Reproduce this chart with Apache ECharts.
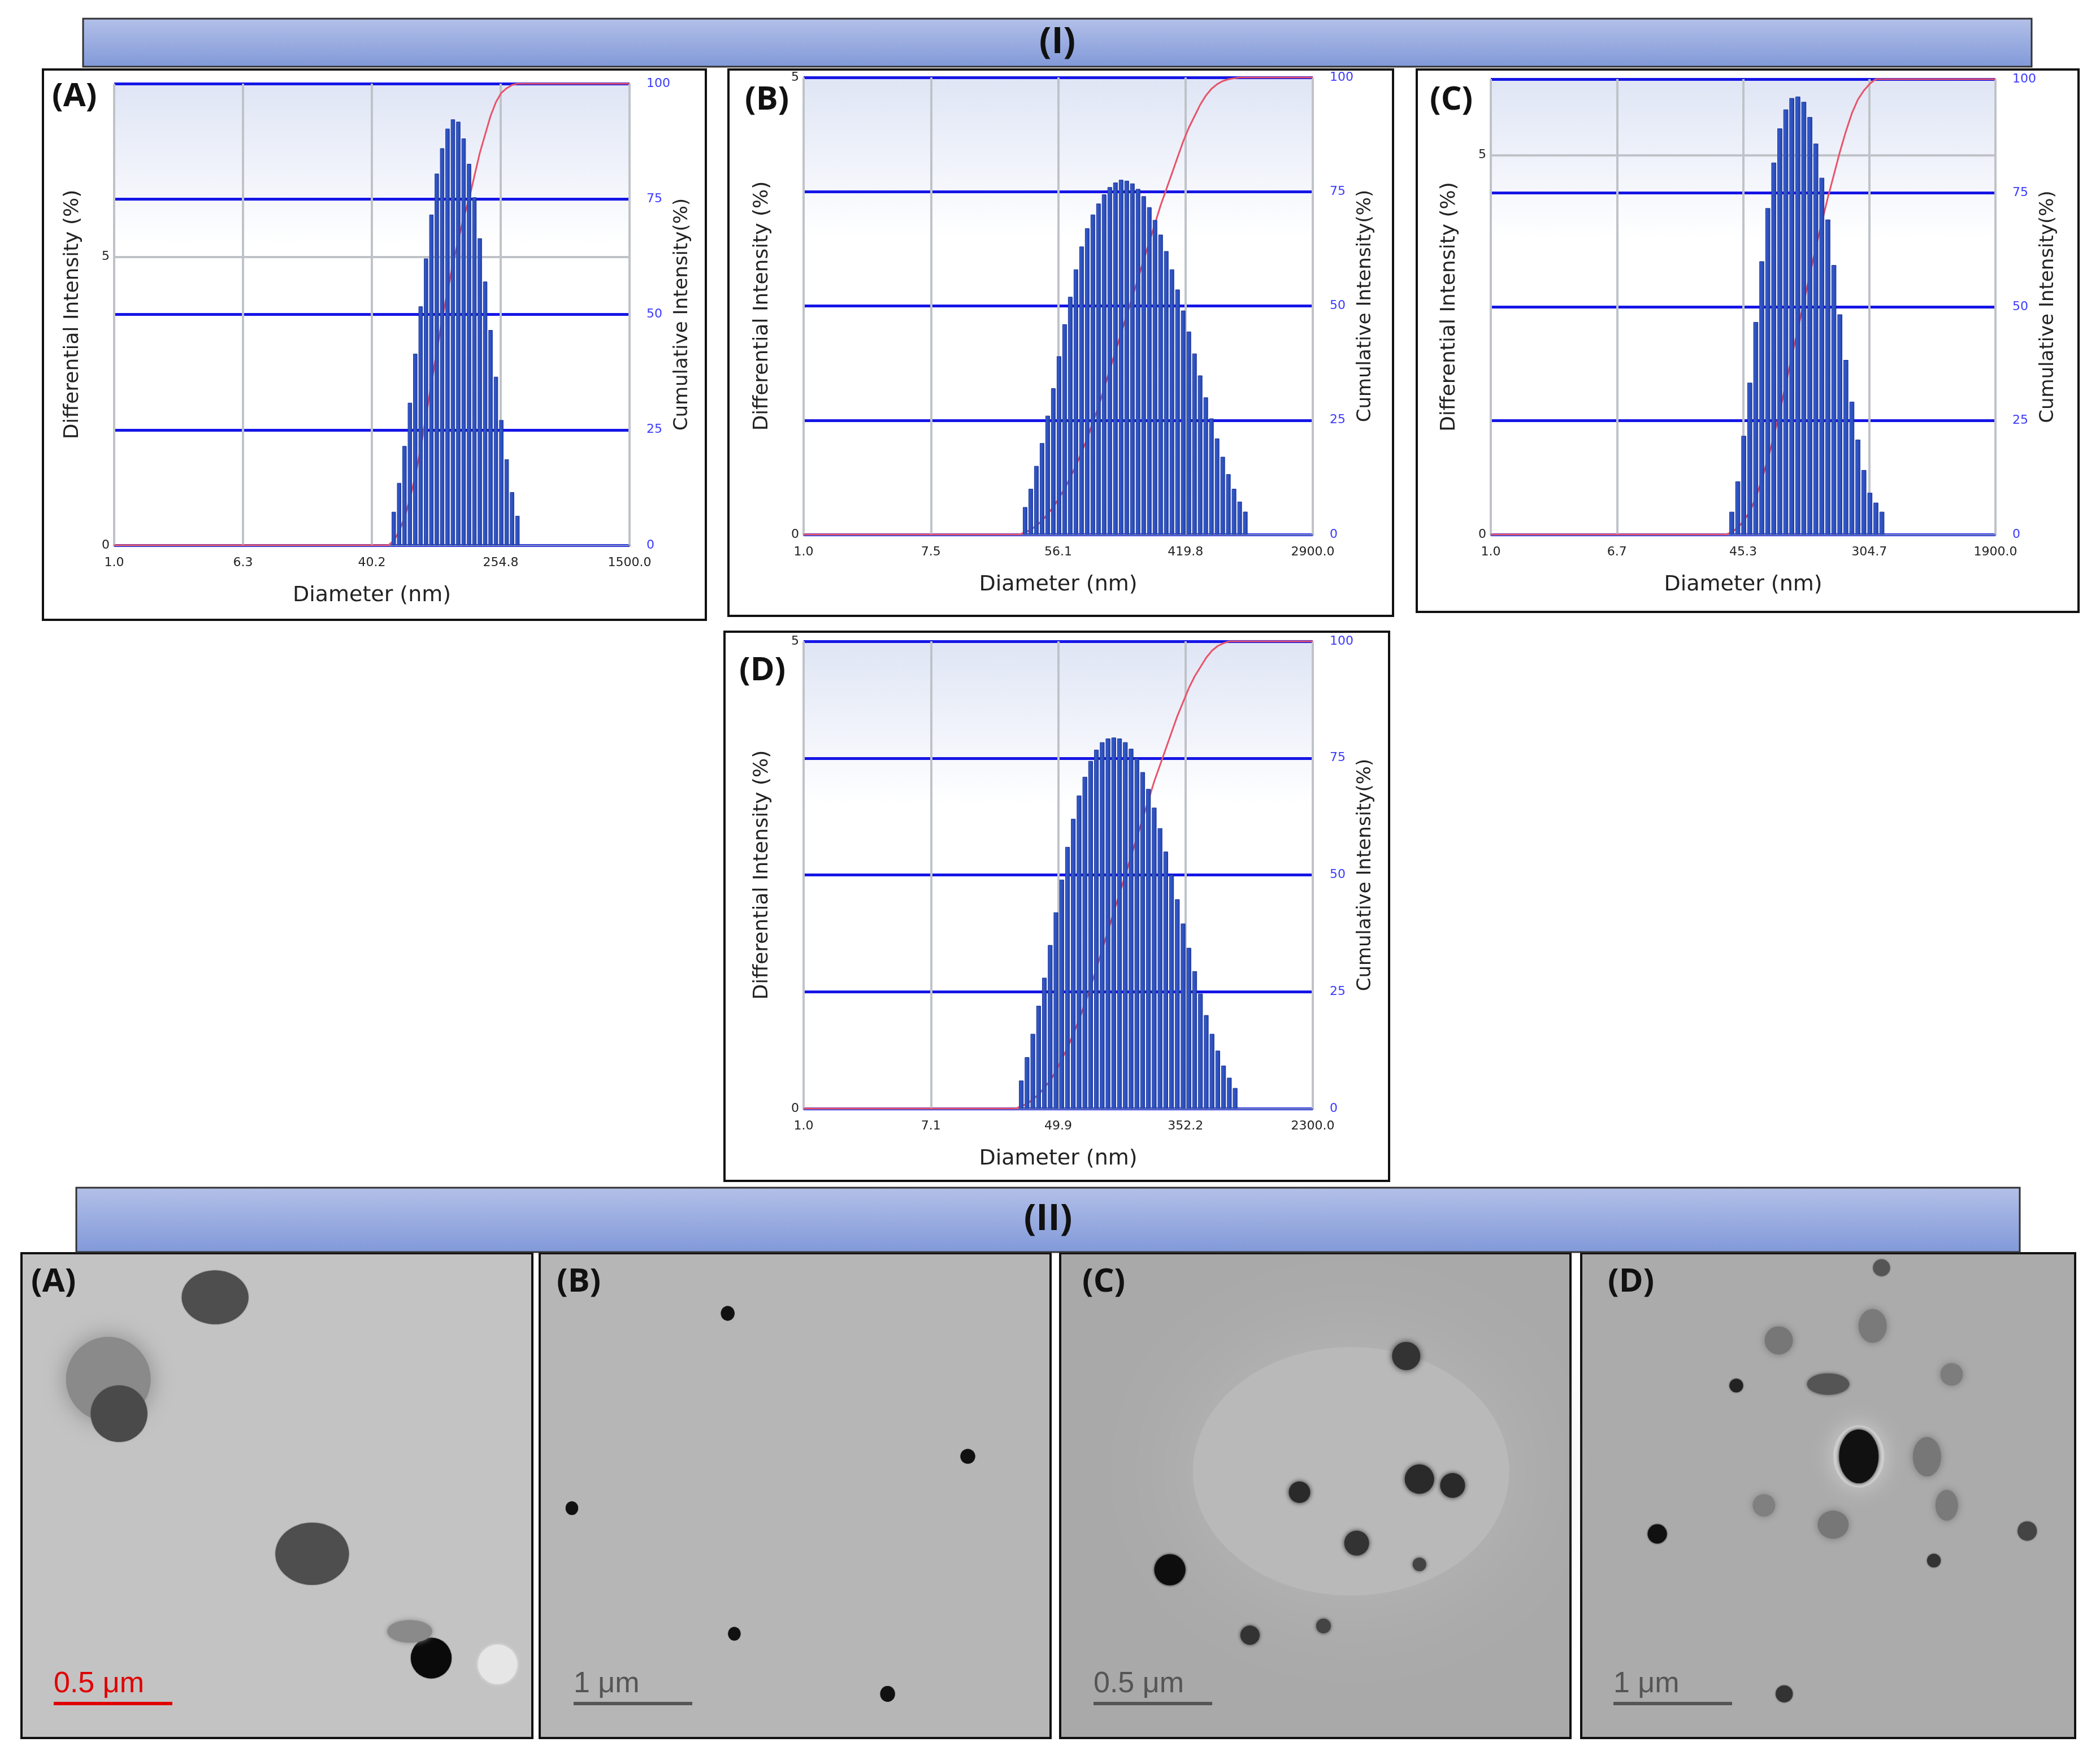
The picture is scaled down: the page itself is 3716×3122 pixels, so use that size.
<!DOCTYPE html>
<html>
<head>
<meta charset="utf-8">
<script src="https://cdn.jsdelivr.net/npm/echarts@6/dist/echarts.min.js"></script>
<style>html,body{margin:0;padding:0;background:#fff}#main{width:3716px;height:3122px}</style>
</head>
<body>
<div id="main"></div>
<script>
// ---- DLS data (x positions are in log-axis units 0..4) ----
var ticksA = ['1.0', '6.3', '40.2', '254.8', '1500.0'];
var ticksB = ['1.0', '7.5', '56.1', '419.8', '2900.0'];
var ticksC = ['1.0', '6.7', '45.3', '304.7', '1900.0'];
var ticksD = ['1.0', '7.1', '49.9', '352.2', '2300.0'];

var diffA = [0.58, 1.08, 1.72, 2.47, 3.32, 4.14, 4.97, 5.73, 6.44, 6.88, 7.22, 7.38, 7.34, 7.05, 6.61, 6.03, 5.32, 4.57, 3.73, 2.92, 2.17, 1.49, 0.92, 0.51];
var cumA = [1, 3, 6, 10, 15, 21, 28, 35, 42, 49, 55, 61, 66, 71, 75, 80, 85, 89, 93, 96, 98, 99, 99.7, 100];
var diffB = [0.3, 0.5, 0.75, 1.0, 1.3, 1.6, 1.95, 2.3, 2.6, 2.9, 3.15, 3.35, 3.5, 3.62, 3.72, 3.8, 3.85, 3.88, 3.87, 3.84, 3.78, 3.7, 3.58, 3.44, 3.28, 3.1, 2.9, 2.68, 2.45, 2.22, 1.98, 1.74, 1.5, 1.27, 1.05, 0.85, 0.66, 0.5, 0.36, 0.25];
var cumB = [0.5, 1, 2, 3, 4.5, 6, 8, 10, 12.5, 15, 18, 21, 24.5, 28, 32, 36, 40, 44, 48, 52, 56, 60, 64, 68, 72, 75.5, 79, 82.5, 86, 89, 91.5, 94, 96, 97.5, 98.5, 99.2, 99.6, 99.8, 100, 100];
var diffC = [0.3, 0.7, 1.3, 2.0, 2.8, 3.6, 4.3, 4.9, 5.35, 5.6, 5.75, 5.77, 5.7, 5.5, 5.15, 4.7, 4.15, 3.55, 2.9, 2.3, 1.75, 1.25, 0.85, 0.55, 0.42, 0.3];
var cumC = [0.5, 1.5, 3, 5, 8, 12, 16.5, 21.5, 27, 33, 39, 45, 51, 57, 63, 68.5, 74, 79, 84, 88.5, 92.5, 95.5, 97.5, 99, 100, 100];
var diffD = [0.3, 0.55, 0.8, 1.1, 1.4, 1.75, 2.1, 2.45, 2.8, 3.1, 3.35, 3.55, 3.72, 3.84, 3.92, 3.96, 3.97, 3.96, 3.92, 3.85, 3.75, 3.6, 3.42, 3.22, 3.0, 2.75, 2.5, 2.24, 1.98, 1.72, 1.47, 1.23, 1.0, 0.8, 0.62, 0.46, 0.33, 0.22];
var cumD = [0.5, 1, 2, 3, 4.5, 6, 8, 10.5, 13, 16, 19, 22.5, 26, 30, 34, 38, 42, 46, 50, 54, 58, 62, 66, 70, 73.5, 77, 80.5, 84, 87, 90, 92.5, 94.5, 96.5, 98, 99, 99.6, 100, 100];

// first bin position and last bin position (log-axis units)
var binsA = [2.17, 3.13];
var binsB = [1.74, 3.47];
var binsC = [1.91, 3.10];
var binsD = [1.71, 3.39];

// ---- TEM particles: [x%, y%, w, h], colours and blur kept separately ----
var temA = [[17, 74, 150, 150], [37.9, 90.9, 118, 95], [19.1, 66.9, 100, 100], [56.9, 38.0, 130, 110], [80.2, 16.5, 72, 72], [93.2, 15.2, 70, 70], [76, 22, 80, 40]];
var temAcol = ['#8a8a8a', '#4e4e4e', '#4a4a4a', '#4e4e4e', '#0a0a0a', '#e6e6e6', '#8a8a8a'];
var temAblur = [40, 2, 2, 2, 2, 6, 10];
var temB = [[36.8, 87.6, 24, 26], [83.8, 58.1, 26, 26], [6.3, 47.4, 22, 24], [38.1, 21.5, 22, 24], [68.1, 9.1, 26, 28]];
var temBcol = ['#111', '#111', '#111', '#111', '#111'];
var temBblur = [1, 1, 1, 1, 1];
var temC = [[57, 55, 560, 440], [21.5, 34.7, 55, 55], [67.8, 78.8, 50, 50], [46.9, 50.7, 38, 38], [70.4, 53.4, 52, 52], [76.9, 52.1, 44, 44], [58.1, 40.2, 44, 44], [37.2, 21.2, 34, 34], [51.6, 23.1, 26, 26], [70.4, 35.8, 24, 24]];
var temCcol = ['#b9b9b9', '#0e0e0e', '#333', '#2a2a2a', '#2a2a2a', '#2a2a2a', '#333', '#333', '#444', '#444'];
var temCblur = [200, 4, 12, 8, 8, 8, 8, 6, 6, 6];
var temD = [[56.2, 58.1, 90, 110], [56.2, 58.1, 70, 95], [15.4, 42.1, 34, 34], [31.4, 72.7, 24, 24], [71.4, 36.6, 24, 24], [90.3, 42.7, 34, 34], [41.1, 9.1, 30, 30], [60.8, 97, 30, 30], [50, 73, 75, 38], [40, 82, 50, 50], [59, 85, 50, 60], [70, 58, 50, 70], [51, 44, 55, 50], [74, 48, 40, 55], [37, 48, 40, 40], [75, 75, 40, 40]];
var temDcol = ['#cfcfcf', '#111', '#111', '#222', '#333', '#444', '#333', '#555', '#555', '#777', '#7a7a7a', '#777', '#777', '#7a7a7a', '#808080', '#7d7d7d'];
var temDblur = [40, 6, 3, 3, 3, 3, 3, 3, 6, 14, 14, 14, 14, 14, 14, 14];

var chart = echarts.init(document.getElementById('main'));

var grids = [], xAxes = [], yAxes = [], series = [], graphics = [];

function plotBg() {
  return new echarts.graphic.LinearGradient(0, 0, 0, 1, [
    { offset: 0, color: '#dfe5f5' }, { offset: 0.35, color: '#ffffff' }, { offset: 1, color: '#ffffff' }]);
}

function addDls(rect, ticks, diff, cum, bins, yMax) {
  var gi = grids.length;
  grids.push({ left: rect[0], top: rect[1], width: rect[2], height: rect[3], show: true, backgroundColor: plotBg(), borderWidth: 0 });
  xAxes.push({
    gridIndex: gi, type: 'value', min: 0, max: 4, interval: 1,
    name: 'Diameter (nm)', nameLocation: 'middle', nameGap: 70,
    nameTextStyle: { fontSize: 38, color: '#222', fontFamily: 'DejaVu Sans' },
    axisLine: { lineStyle: { color: '#6d7fc4', width: 3 } }, axisTick: { show: false },
    axisLabel: { fontSize: 22, color: '#222', margin: 20, fontFamily: 'DejaVu Sans', formatter: function (v) { return ticks[v]; } },
    splitLine: { show: true, lineStyle: { color: '#bfc3c8', width: 4 } }
  });
  var yl = yAxes.length;
  yAxes.push({
    gridIndex: gi, type: 'value', min: 0, max: yMax, interval: 5,
    name: 'Differential Intensity (%)', nameLocation: 'middle', nameGap: 55,
    nameTextStyle: { fontSize: 36, color: '#222', fontFamily: 'DejaVu Sans' },
    axisLine: { show: false }, axisTick: { show: false },
    axisLabel: { fontSize: 22, color: '#222', fontFamily: 'DejaVu Sans', formatter: function (v) { return v === 0 || v === 5 ? String(v) : ''; } },
    splitLine: { show: true, lineStyle: { color: '#bfc3c8', width: 4 } }
  });
  yAxes.push({
    gridIndex: gi, type: 'value', min: 0, max: 100, interval: 25, position: 'right',
    name: 'Cumulative Intensity(%)', nameLocation: 'middle', nameGap: 70,
    nameTextStyle: { fontSize: 34, color: '#222', fontFamily: 'DejaVu Sans' },
    axisLine: { show: false }, axisTick: { show: false },
    axisLabel: { fontSize: 22, color: '#3a3aff', margin: 30, fontFamily: 'DejaVu Sans' },
    splitLine: { show: true, lineStyle: { color: '#1515e6', width: 5 } }
  });
  var step = (bins[1] - bins[0]) / (diff.length - 1);
  var bw = Math.max(4, step / 4 * rect[2] - 2);
  series.push({
    type: 'line', xAxisIndex: gi, yAxisIndex: yl + 1, z: 1, symbol: 'none',
    lineStyle: { color: '#e8546a', width: 3 },
    data: [[0, 0], [bins[0] - step, 0]].concat(cum.map(function (c, i) { return [bins[0] + i * step, c]; }), [[4, 100]])
  });
  series.push({
    type: 'bar', xAxisIndex: gi, yAxisIndex: yl, z: 3, barWidth: bw,
    itemStyle: {
      color: new echarts.graphic.LinearGradient(0, 0, 1, 0, [{ offset: 0, color: '#3a5fd0' }, { offset: 1, color: '#2244b0' }]),
      borderColor: '#1b3596', borderWidth: 1
    },
    data: diff.map(function (d, i) { return [bins[0] + i * step, d]; })
  });
}

function addTem(rect, bg, parts, cols, blurs) {
  var gi = grids.length;
  grids.push({ left: rect[0], top: rect[1], width: rect[2], height: rect[3], show: true, backgroundColor: bg, borderColor: '#111', borderWidth: 4 });
  xAxes.push({ gridIndex: gi, type: 'value', min: 0, max: 100, show: false });
  yAxes.push({ gridIndex: gi, type: 'value', min: 0, max: 100, show: false });
  series.push({
    type: 'scatter', xAxisIndex: gi, yAxisIndex: yAxes.length - 1, silent: true, z: 4,
    symbolSize: function (v) { return [v[2], v[3]]; },
    data: parts.map(function (p, i) {
      return { value: p, itemStyle: { color: cols[i], opacity: 1, shadowBlur: blurs[i], shadowColor: cols[i] } };
    })
  });
}

addDls([202, 148, 912, 817], ticksA, diffA, cumA, binsA, 8);
addDls([1422, 137, 901, 809], ticksB, diffB, cumB, binsB, 5);
addDls([2638, 140, 893, 806], ticksC, diffC, cumC, binsC, 6);
addDls([1422, 1135, 901, 827], ticksD, diffD, cumD, binsD, 5);

addTem([38, 2218, 904, 858], '#c3c3c3', temA, temAcol, temAblur);
addTem([955, 2218, 904, 858], '#b6b6b6', temB, temBcol, temBblur);
addTem([1876, 2218, 903, 858], '#a9a9a9', temC, temCcol, temCblur);
addTem([2798, 2218, 874, 858], '#ababab', temD, temDcol, temDblur);

function band(x, y, w, h, label) {
  graphics.push({ type: 'rect', shape: { x: x, y: y, width: w, height: h }, z: 0,
    style: { fill: new echarts.graphic.LinearGradient(0, 0, 0, 1, [{ offset: 0, color: '#b3c0e8' }, { offset: 1, color: '#8199d9' }]), stroke: '#333', lineWidth: 3 } });
  graphics.push({ type: 'text', x: x + w / 2, y: y + h / 2, z: 10,
    style: { text: label, fontSize: 64, fontWeight: 'bold', fill: '#111', align: 'center', verticalAlign: 'middle', fontFamily: 'Open Sans' } });
}
band(147, 33, 3448, 85, '(I)');
band(135, 2102, 3439, 114, '(II)');

function box(x, y, w, h) {
  graphics.push({ type: 'rect', shape: { x: x, y: y, width: w, height: h }, z: 5, style: { fill: null, stroke: '#111', lineWidth: 4 } });
}
box(76, 123, 1173, 974);
box(1289, 123, 1176, 967);
box(2507, 123, 1171, 960);
box(1282, 1118, 1176, 972);

function tag(x, y, t) {
  graphics.push({ type: 'text', x: x, y: y, z: 20,
    style: { text: t, fontSize: 58, fontWeight: 'bold', fill: '#111', fontFamily: 'Open Sans' } });
}
tag(92, 142, '(A)'); tag(1318, 148, '(B)'); tag(2530, 148, '(C)'); tag(1308, 1158, '(D)');
tag(55, 2240, '(A)'); tag(985, 2240, '(B)'); tag(1915, 2240, '(C)'); tag(2845, 2240, '(D)');

function scaleBar(x, label, color) {
  graphics.push({ type: 'text', x: x, y: 2955, z: 20, style: { text: label, fontSize: 52, fill: color, fontFamily: 'Liberation Sans' } });
  graphics.push({ type: 'rect', shape: { x: x, y: 3012, width: 210, height: 6 }, z: 20, style: { fill: color } });
}
scaleBar(95, '0.5 μm', '#e00000');
scaleBar(1015, '1 μm', '#555');
scaleBar(1935, '0.5 μm', '#555');
scaleBar(2855, '1 μm', '#555');

chart.setOption({
  backgroundColor: '#ffffff',
  animation: false,
  grid: grids,
  xAxis: xAxes,
  yAxis: yAxes,
  series: series,
  graphic: graphics
});
</script>
</body>
</html>
